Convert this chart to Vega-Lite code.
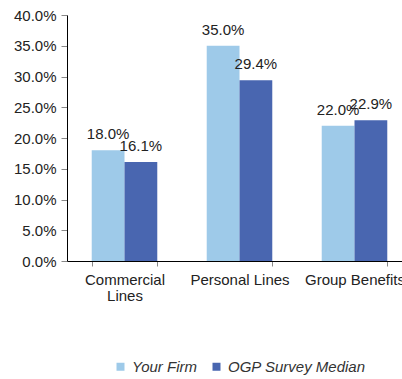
{
  "$schema": "https://vega.github.io/schema/vega-lite/v6.json",
  "width": 345,
  "height": 246,
  "padding": {"left": 13, "top": 8, "right": 0, "bottom": 0},
  "config": {
    "view": {"stroke": null},
    "font": "Liberation Sans",
    "axis": {"labelFont": "Liberation Sans", "labelFontSize": 15, "labelColor": "#222", "domainColor": "#000", "tickColor": "#888", "grid": false, "title": null, "labelOverlap": false},
    "legend": {"labelFont": "Liberation Sans"}
  },
  "data": {
    "values": [
      {"category": "Commercial Lines", "series": "Your Firm", "value": 0.18},
      {"category": "Commercial Lines", "series": "OGP Survey Median", "value": 0.161},
      {"category": "Personal Lines", "series": "Your Firm", "value": 0.35},
      {"category": "Personal Lines", "series": "OGP Survey Median", "value": 0.294},
      {"category": "Group Benefits", "series": "Your Firm", "value": 0.22},
      {"category": "Group Benefits", "series": "OGP Survey Median", "value": 0.229}
    ]
  },
  "encoding": {
    "x": {
      "field": "category", "type": "nominal", "sort": null,
      "scale": {"paddingInner": 0.43, "paddingOuter": 0.215},
      "axis": {"labelAngle": 0, "tickBand": "extent", "tickSize": 5, "labelPadding": 6,
        "labelExpr": "datum.label == 'Commercial Lines' ? ['Commercial', 'Lines'] : datum.label",
        "labelLineHeight": 16, "labelBaseline": "top"}
    },
    "xOffset": {"field": "series", "type": "nominal", "sort": ["Your Firm", "OGP Survey Median"]},
    "y": {
      "field": "value", "type": "quantitative",
      "scale": {"domain": [0, 0.4], "nice": false},
      "axis": {"format": ".1%", "values": [0, 0.05, 0.1, 0.15, 0.2, 0.25, 0.3, 0.35, 0.4], "tickSize": 6, "labelPadding": 5}
    }
  },
  "layer": [
    {
      "mark": {"type": "bar"},
      "encoding": {
        "color": {
          "field": "series", "type": "nominal",
          "sort": ["Your Firm", "OGP Survey Median"],
          "scale": {"domain": ["Your Firm", "OGP Survey Median"], "range": ["#9ECAE9", "#4966B0"]},
          "legend": {"title": null, "orient": "none", "direction": "horizontal", "legendX": 46, "legendY": 344,
            "symbolType": "square", "symbolSize": 64, "labelFontSize": 15, "labelFontStyle": "italic", "labelColor": "#333", "columnPadding": 11}
        }
      }
    },
    {
      "mark": {"type": "text", "baseline": "alphabetic", "dy": -11, "fontSize": 15, "color": "#222"},
      "encoding": {
        "text": {"field": "value", "type": "quantitative", "format": ".1%"}
      }
    }
  ]
}
